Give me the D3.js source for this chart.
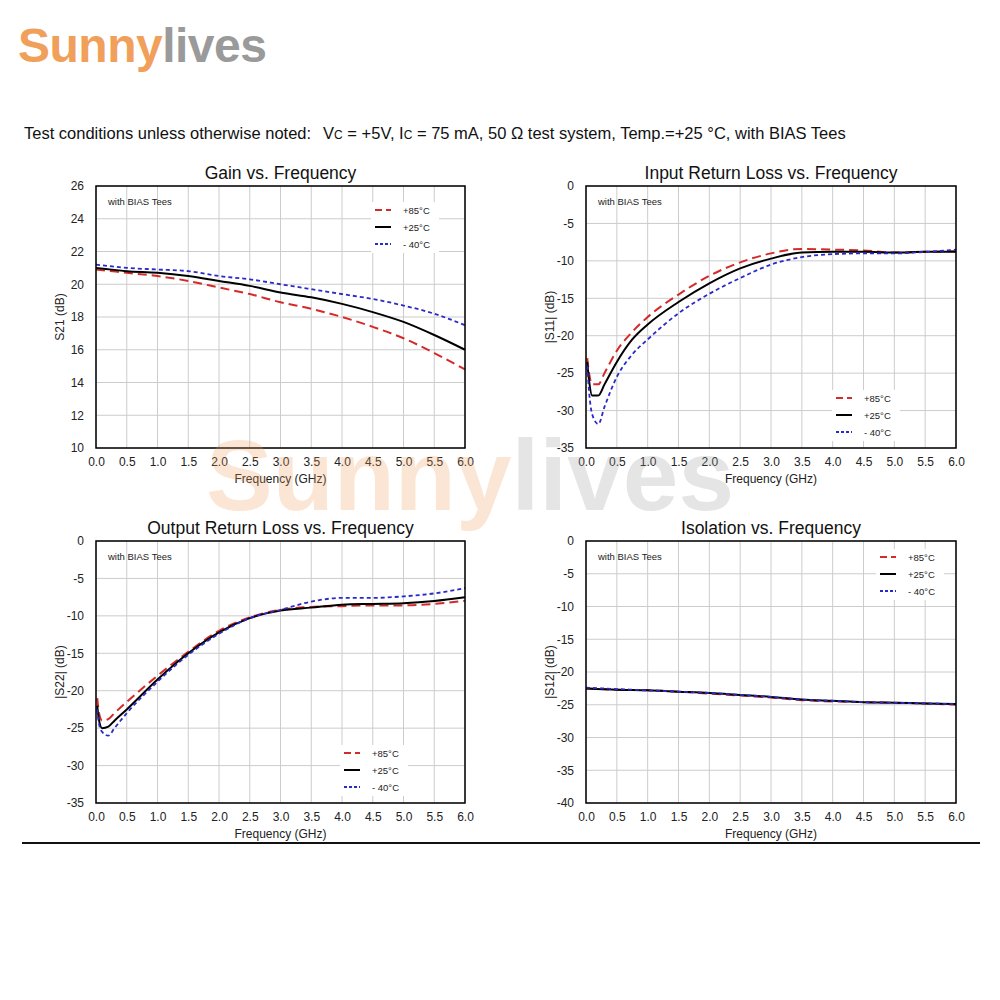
<!DOCTYPE html><html><head><meta charset="utf-8">
<script src="https://cdn.jsdelivr.net/npm/d3@7"></script>
<style>body{margin:0;background:#fff}text{font-family:"Liberation Sans",Arial,sans-serif}</style></head><body>
<svg id="c" width="1000" height="1000"></svg>
<script>
const seriesNames=["+85°C","+25°C","- 40°C"];
const gainX=[0,0.5,1,1.5,2,2.5,3,3.5,4,4.5,5,5.5,6];
const gain85=[20.9,20.7,20.5,20.2,19.8,19.4,18.9,18.5,18.0,17.4,16.7,15.8,14.8];
const gain25=[21.0,20.8,20.7,20.5,20.2,19.9,19.5,19.2,18.8,18.3,17.7,16.9,16.0];
const gainM40=[21.2,21.0,20.9,20.8,20.5,20.3,20.0,19.7,19.4,19.1,18.7,18.2,17.5];
const s11X=[0.02,0.05,0.1,0.2,0.3,0.5,0.75,1,1.5,2,2.5,3,3.5,4,4.5,5,5.5,6];
const s11_85=[-23,-25,-26.5,-26.5,-25,-22,-19.5,-17.5,-14.5,-12,-10.2,-9,-8.4,-8.5,-8.6,-8.9,-8.8,-8.7];
const s11_25=[-23.5,-26,-28,-28,-26.5,-23.5,-20.5,-18.5,-15.5,-13,-11,-9.7,-8.9,-8.8,-8.8,-8.9,-8.8,-8.8];
const s11_m40=[-24,-27.5,-30.5,-31.8,-29.5,-25.5,-22.5,-20.5,-17,-14.4,-12.3,-10.5,-9.5,-9.1,-9.0,-9.0,-8.8,-8.5];
const s22X=[0.02,0.05,0.1,0.2,0.3,0.5,1,1.5,2,2.5,3,3.5,4,4.5,5,5.5,6];
const s22_85=[-21,-23,-24,-23.8,-23,-21.5,-18,-14.8,-12,-10.2,-9.2,-8.8,-8.7,-8.6,-8.6,-8.4,-8.0];
const s22_25=[-22,-24,-25,-24.8,-24,-22.5,-18.5,-15,-12.2,-10.3,-9.3,-8.9,-8.5,-8.4,-8.3,-8,-7.5];
const s22_m40=[-22.5,-24.5,-25.5,-26,-25,-23,-18.8,-15.2,-12.4,-10.3,-9.2,-8.1,-7.6,-7.6,-7.4,-7,-6.3];
const s12X=[0,0.5,1,1.5,2,2.5,3,3.5,4,4.5,5,5.5,6];
const s12_85=[-22.5,-22.7,-22.8,-23,-23.3,-23.6,-23.9,-24.3,-24.5,-24.6,-24.7,-24.8,-25];
const s12_25=[-22.5,-22.7,-22.8,-23,-23.2,-23.5,-23.8,-24.2,-24.4,-24.6,-24.7,-24.8,-24.9];
const s12_m40=[-22.4,-22.6,-22.8,-23,-23.2,-23.5,-23.8,-24.2,-24.4,-24.6,-24.7,-24.8,-24.9];
const xTicks=[0,0.5,1,1.5,2,2.5,3,3.5,4,4.5,5,5.5,6];

const svg=d3.select("#c");
const logo=svg.append("text").attr("x",18).attr("y",62).attr("font-size",48).attr("font-weight","bold").attr("letter-spacing",-0.5);
logo.append("tspan").attr("fill","#f0a05a").text("Sunny");
logo.append("tspan").attr("fill","#9a9a9a").text("lives");

const hdr=svg.append("text").attr("x",24).attr("y",139).attr("font-size",16.5).attr("fill","#111");
hdr.append("tspan").text("Test conditions unless otherwise noted:");
hdr.append("tspan").attr("dx",12).text("V");
hdr.append("tspan").attr("font-size",12).text("C");
hdr.append("tspan").text(" = +5V, I");
hdr.append("tspan").attr("font-size",12).text("C");
hdr.append("tspan").text(" = 75 mA, 50 Ω test system, Temp.=+25 °C, with BIAS Tees");

const styles=[{c:"#d42a2a",d:"9,5",w:2},{c:"#000",d:null,w:2},{c:"#2a2ac8",d:"4,3",w:1.8}];

function chart(o){
  const x=d3.scaleLinear().domain([0,6]).range([o.x0,o.x1]);
  const y=d3.scaleLinear().domain(o.yd).range([o.y1,o.y0]);
  const g=svg.append("g");
  g.append("text").attr("x",(o.x0+o.x1)/2).attr("y",o.y0-7).attr("text-anchor","middle").attr("font-size",17.5).attr("fill","#111").text(o.title);
  g.append("g").selectAll("line").data(xTicks).join("line").attr("x1",d=>x(d)).attr("x2",d=>x(d)).attr("y1",o.y0).attr("y2",o.y1).attr("stroke","#ccc");
  g.append("g").selectAll("line").data(o.yt).join("line").attr("y1",d=>y(d)).attr("y2",d=>y(d)).attr("x1",o.x0).attr("x2",o.x1).attr("stroke","#ccc");
  const xa=g.append("g").attr("transform",`translate(0,${o.y1})`).call(d3.axisBottom(x).tickValues(xTicks).tickFormat(d3.format(".1f")).tickSize(0).tickPadding(9));
  const ya=g.append("g").attr("transform",`translate(${o.x0},0)`).call(d3.axisLeft(y).tickValues(o.yt).tickFormat(d=>String(d)).tickSize(0).tickPadding(12));
  [xa,ya].forEach(a=>{a.select(".domain").remove();a.selectAll("text").attr("font-size",12).attr("fill","#222").attr("font-family","Liberation Sans,Arial");});
  g.append("text").attr("x",(o.x0+o.x1)/2).attr("y",o.y1+35).attr("text-anchor","middle").attr("font-size",12).attr("fill","#222").text("Frequency (GHz)");
  g.append("text").attr("transform",`translate(${o.x0-32},${(o.y0+o.y1)/2}) rotate(-90)`).attr("text-anchor","middle").attr("font-size",12).attr("fill","#222").text(o.ylab);
  g.append("text").attr("x",o.x0+12).attr("y",o.y0+19).attr("font-size",9.5).attr("fill","#222").text("with BIAS Tees");
  const line=d3.line().x(d=>x(d[0])).y(d=>y(d[1])).curve(d3.curveMonotoneX);
  o.series.forEach((s,i)=>{
    g.append("path").datum(o.xs.map((v,j)=>[v,s[j]])).attr("d",line).attr("fill","none")
     .attr("stroke",styles[i].c).attr("stroke-width",styles[i].w).attr("stroke-dasharray",styles[i].d);
  });
  g.append("rect").attr("x",o.x0).attr("y",o.y0).attr("width",o.x1-o.x0).attr("height",o.y1-o.y0).attr("fill","none").attr("stroke","#000").attr("stroke-width",1.5);
  seriesNames.forEach((n,i)=>{
    const ly=o.ly+i*17;
    g.append("rect").attr("x",o.lx-4).attr("y",ly-8).attr("width",68).attr("height",17).attr("fill","#fff");
    g.append("line").attr("x1",o.lx).attr("x2",o.lx+16).attr("y1",ly).attr("y2",ly).attr("stroke",styles[i].c).attr("stroke-width",styles[i].w).attr("stroke-dasharray",i==1?null:(i==0?"7,4":"3,2"));
    g.append("text").attr("x",o.lx+28).attr("y",ly+4).attr("font-size",9.5).attr("fill","#222").text(n);
  });
}
chart({title:"Gain vs. Frequency",x0:96,x1:465,y0:186,y1:448,yd:[10,26],yt:d3.range(10,27,2),ylab:"S21 (dB)",xs:gainX,series:[gain85,gain25,gainM40],lx:375,ly:210});
chart({title:"Input Return Loss vs. Frequency",x0:586,x1:956,y0:186,y1:448,yd:[-35,0],yt:d3.range(-35,1,5),ylab:"|S11| (dB)",xs:s11X,series:[s11_85,s11_25,s11_m40],lx:836,ly:398});
chart({title:"Output Return Loss vs. Frequency",x0:96,x1:465,y0:541,y1:803,yd:[-35,0],yt:d3.range(-35,1,5),ylab:"|S22| (dB)",xs:s22X,series:[s22_85,s22_25,s22_m40],lx:344,ly:753});
chart({title:"Isolation vs. Frequency",x0:586,x1:956,y0:541,y1:803,yd:[-40,0],yt:d3.range(-40,1,5),ylab:"|S12| (dB)",xs:s12X,series:[s12_85,s12_25,s12_m40],lx:880,ly:557});

const wm=svg.append("text").attr("x",470).attr("y",510).attr("text-anchor","middle").attr("font-size",100).attr("font-weight","bold").attr("opacity",0.25);
wm.append("tspan").attr("fill","#f0a05a").text("Sunny");
wm.append("tspan").attr("fill","#9a9a9a").text("lives");
svg.append("line").attr("x1",22).attr("x2",980).attr("y1",843).attr("y2",843).attr("stroke","#111").attr("stroke-width",2);
</script></body></html>
